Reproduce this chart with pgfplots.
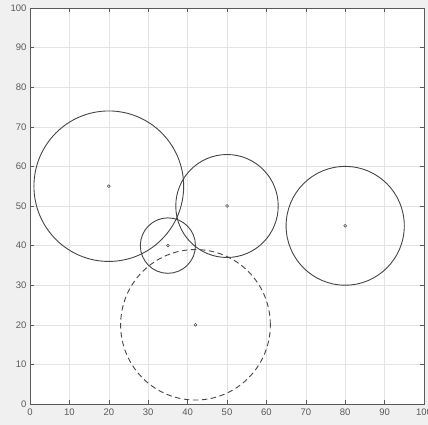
\documentclass[border=0pt]{standalone}
\usepackage{pgfplots}
\pgfplotsset{compat=1.18}
\usepackage{fontspec}
\setmainfont{Liberation Sans}
\usetikzlibrary{backgrounds}
\definecolor{figbg}{RGB}{240,240,240}
\definecolor{axc}{RGB}{90,90,90}
\definecolor{circ}{RGB}{70,70,70}
\begin{document}
\begin{tikzpicture}[x=1pt,y=1pt]
\begin{axis}[
  at={(30pt,21pt)}, anchor=south west,
  scale only axis, width=394pt, height=396pt,
  xmin=0, xmax=100, ymin=0, ymax=100,
  xtick={0,10,...,100}, ytick={0,10,...,100},
  grid=major,
  major grid style={draw=black!11, line width=0.5pt},
  tick align=inside, tick pos=both,
  major tick length=4pt,
  axis line style={axc, line width=0.7pt},
  tick style={axc, line width=0.5pt},
  ticklabel style={font=\fontsize{9.5}{11}\selectfont, text=axc},
  xticklabel style={yshift=-1pt},
  /pgf/number format/assume math mode=true,
  axis background/.style={fill=white},
]
\addplot[only marks, mark=o, mark size=1.4pt, circ, mark options={line width=0.5pt}]
  coordinates {(20,55) (50,50) (80,45) (35,40) (42,20)};
\draw[circ, line width=0.9pt] (axis cs:20,55) ellipse [x radius=19, y radius=19];
\draw[circ, line width=0.9pt] (axis cs:50,50) ellipse [x radius=13, y radius=13];
\draw[circ, line width=0.9pt] (axis cs:80,45) ellipse [x radius=15, y radius=15];
\draw[circ, line width=0.9pt] (axis cs:35,40) ellipse [x radius=7, y radius=7];
\draw[circ, line width=0.9pt, dash pattern=on 5.5pt off 3.5pt] (axis cs:42,20) ellipse [x radius=19, y radius=19];
\end{axis}
\begin{scope}[on background layer]
\fill[figbg] (0,0) rectangle (428,425);
\end{scope}
\pgfresetboundingbox
\path[use as bounding box] (0,0) rectangle (428,425);
\end{tikzpicture}
\end{document}
